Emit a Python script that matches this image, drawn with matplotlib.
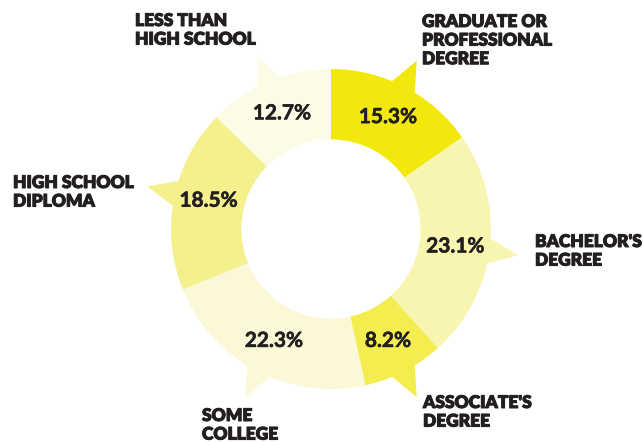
import numpy as np
import matplotlib
matplotlib.use("Agg")
import matplotlib.pyplot as plt
import matplotlib.patheffects as pe
from matplotlib.patches import Polygon

# Data (clockwise from 12 o'clock)
categories = ["GRADUATE OR\nPROFESSIONAL\nDEGREE", "BACHELOR'S\nDEGREE", "ASSOCIATE'S\nDEGREE",
              "SOME\nCOLLEGE", "HIGH SCHOOL\nDIPLOMA", "LESS THAN\nHIGH SCHOOL"]
shares = [15.3, 23.1, 8.2, 22.3, 18.5, 12.7]
pct_labels = ["15.3%", "23.1%", "8.2%", "22.3%", "18.5%", "12.7%"]

# styling
colors = ["#F2E80D", "#F7F5AF", "#F3ED50", "#FAF8D7", "#F4F08C", "#FCFBE6"]
callout_deg = [63, -8, -63, -117, 167, 113]
label_px = [(422, 14), (535, 234), (423, 395), (202, 408), (13, 175), (135, 13)]
text_color = "#231f20"

W, H = 643, 443
cx, cy, R = 331, 229, 160

fig = plt.figure(figsize=(W / 100, H / 100), dpi=100)
ax = fig.add_axes([0, 0, 1, 1])

ax.pie(shares, radius=1, startangle=90, counterclock=False, colors=colors,
       wedgeprops=dict(width=0.44, linewidth=0))

# callout pointers
for ang, col in zip(callout_deg, colors):
    a = np.deg2rad(ang)
    b1, b2 = np.deg2rad(ang + 5.5), np.deg2rad(ang - 5.5)
    pts = [(0.97 * np.cos(b1), 0.97 * np.sin(b1)),
           (1.18 * np.cos(a), 1.18 * np.sin(a)),
           (0.97 * np.cos(b2), 0.97 * np.sin(b2))]
    ax.add_patch(Polygon(pts, closed=True, facecolor=col, edgecolor="none", zorder=0.5))

# percent labels
for ang, txt in zip(callout_deg, pct_labels):
    a = np.deg2rad(ang)
    ax.text(0.785 * np.cos(a), 0.785 * np.sin(a), txt, ha="center", va="center",
            fontsize=15, fontweight="bold", family="Lato", color=text_color,
            path_effects=[pe.withStroke(linewidth=0.4, foreground=text_color)])

# category labels
for (px, py), txt in zip(label_px, categories):
    fig.text(px / W, 1 - py / H, txt, ha="left", va="top", fontsize=12.5,
             fontweight="heavy", family="Lato", color=text_color, linespacing=1.2,
             path_effects=[pe.withStroke(linewidth=0.7, foreground=text_color)])

ax.set_xlim(-cx / R, (W - cx) / R)
ax.set_ylim(-(H - cy) / R, cy / R)
ax.set_aspect("equal")
ax.set_axis_off()

fig.savefig("out.png", dpi=100)
